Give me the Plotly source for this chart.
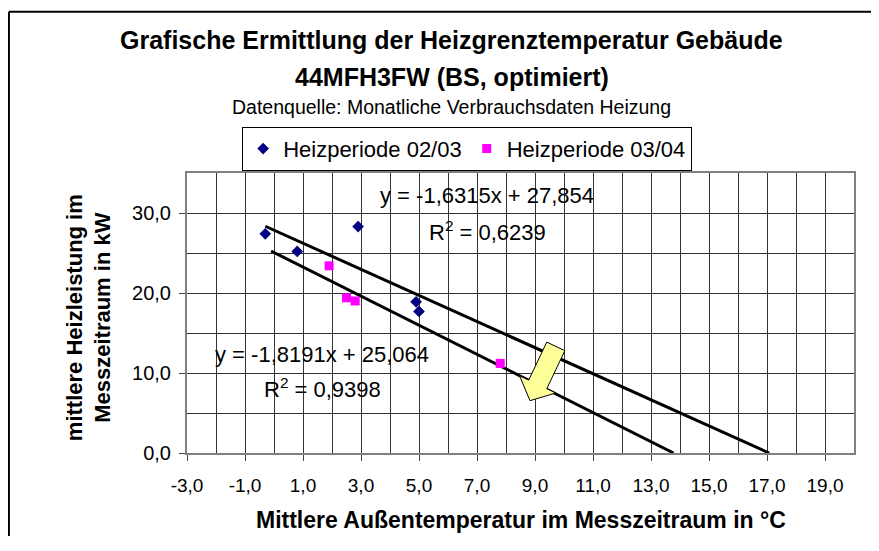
import plotly.graph_objects as go

# Heizperiode 02/03 (mittlere Außentemperatur, mittlere Heizleistung)
temp_0203 = [-0.3, 0.8, 2.9, 4.9, 5.0]
power_0203 = [27.4, 25.2, 28.3, 18.9, 17.7]

# Heizperiode 03/04
temp_0304 = [1.9, 2.5, 2.8, 7.8]
power_0304 = [23.4, 19.4, 19.0, 11.2]

# linear trendlines as shown in the chart
slope_0203, icpt_0203, r2_0203 = -1.6315, 27.854, 0.6239
slope_0304, icpt_0304, r2_0304 = -1.8191, 25.064, 0.9398
backcast_0304 = 2.0

x_ticks = list(range(-3, 20, 2))
y_ticks = [0, 10, 20, 30]

FONT = "Liberation Sans, Arial, sans-serif"


def fmt(v, nd):
    return f"{v:.{nd}f}".replace(".", ",")


def trend_xy(slope, icpt, x_start):
    # line from first x value down to the heating limit (y = 0)
    x_end = -icpt / slope
    xs = [x_start, x_end]
    return xs, [slope * x + icpt for x in xs]


fig = go.Figure()

tx, ty = trend_xy(slope_0203, icpt_0203, min(temp_0203))
fig.add_trace(go.Scatter(x=tx, y=ty, mode="lines", line=dict(color="black", width=3),
                         showlegend=False, hoverinfo="skip"))
tx, ty = trend_xy(slope_0304, icpt_0304, min(temp_0304) - backcast_0304)
fig.add_trace(go.Scatter(x=tx, y=ty, mode="lines", line=dict(color="black", width=3),
                         showlegend=False, hoverinfo="skip"))

fig.add_trace(go.Scatter(x=temp_0203, y=power_0203, mode="markers", name="Heizperiode 02/03",
                         marker=dict(symbol="diamond", size=9, color="#000080")))
fig.add_trace(go.Scatter(x=temp_0304, y=power_0304, mode="markers", name="Heizperiode 03/04",
                         marker=dict(symbol="square", size=9, color="#FF00FF")))

grid_col = "#333333"
fig.update_xaxes(range=[-3, 20], tickmode="array", tickvals=x_ticks,
                 ticktext=[fmt(v, 1) for v in x_ticks],
                 showgrid=True, gridcolor=grid_col, gridwidth=1,
                 minor=dict(tickmode="linear", dtick=1, tick0=-3, showgrid=True,
                            gridcolor=grid_col, gridwidth=1),
                 ticks="outside", ticklen=6, tickcolor="#444", ticklabelstandoff=8,
                 showline=True, linecolor="#808080", linewidth=2, mirror=True,
                 zeroline=False, automargin=False, tickfont=dict(size=19, color="black"))
fig.update_yaxes(range=[0, 35], tickmode="array", tickvals=y_ticks,
                 ticktext=[fmt(v, 1) for v in y_ticks],
                 showgrid=True, gridcolor=grid_col, gridwidth=1,
                 minor=dict(tickmode="linear", dtick=5, tick0=0, showgrid=True,
                            gridcolor=grid_col, gridwidth=1),
                 ticks="outside", ticklen=6, tickcolor="#444", ticklabelstandoff=4,
                 showline=True, linecolor="#808080", linewidth=2, mirror=True,
                 zeroline=False, automargin=False, tickfont=dict(size=20, color="black"))

# yellow block arrow pointing at the heating limit
arrow = [(9.405, 13.86), (10.029, 12.79), (9.407, 8.04), (9.717, 7.5),
         (8.828, 6.54), (8.469, 9.65), (8.783, 9.11)]
path = "M " + " L ".join(f"{x},{y}" for x, y in arrow) + " Z"

# chart area frame: only its left and top edges are inside the picture
frame = dict(color="black", width=2)
shapes = [
    dict(type="path", xref="x", yref="y", path=path, fillcolor="#FFFF99",
         line=dict(color="black", width=1)),
    dict(type="line", xref="paper", yref="paper", x0=-0.267, y0=-0.6, x1=-0.267, y1=1.576,
         line=frame),
    dict(type="line", xref="paper", yref="paper", x0=-0.267, y0=1.576, x1=1.2, y1=1.576,
         line=frame),
]

annotations = [
    dict(text="<b>Grafische Ermittlung der Heizgrenztemperatur Gebäude</b>", x=0.397, y=1.476,
         font=dict(size=25)),
    dict(text="<b>44MFH3FW (BS, optimiert)</b>", x=0.397, y=1.343, font=dict(size=25)),
    dict(text="Datenquelle: Monatliche Verbrauchsdaten Heizung", x=0.397, y=1.237,
         font=dict(size=19.5)),
    dict(text="<b>mittlere Heizleistung im<br>Messzeitraum in kW</b>", x=-0.147, y=0.485,
         textangle=-90, font=dict(size=22)),
    dict(text="<b>Mittlere Außentemperatur im Messzeitraum in °C</b>", x=0.5, y=-0.238,
         font=dict(size=23)),
    dict(text=f"y = {fmt(slope_0203, 4)}x + {fmt(icpt_0203, 3)}", x=0.45, y=0.918,
         font=dict(size=22)),
    dict(text=f"R<sup>2</sup> = {fmt(r2_0203, 4)}", x=0.45, y=0.792, font=dict(size=22)),
    dict(text=f"y = {fmt(slope_0304, 4)}x + {fmt(icpt_0304, 3)}", x=0.203, y=0.351,
         font=dict(size=22)),
    dict(text=f"R<sup>2</sup> = {fmt(r2_0304, 4)}", x=0.203, y=0.233, font=dict(size=22)),
]
for a in annotations:
    a.update(xref="paper", yref="paper", showarrow=False, xanchor="center", yanchor="middle")

# page body has an 8px margin, so the figure is kept a bit smaller than the window
fig.update_layout(
    width=863, height=528,
    margin=dict(l=179, r=17, t=165, b=83),
    paper_bgcolor="white", plot_bgcolor="white",
    font=dict(family=FONT, color="black"),
    showlegend=True,
    legend=dict(orientation="h", x=0.42, xanchor="center", y=1.165, yanchor="top",
                bordercolor="black", borderwidth=1, font=dict(size=22),
                itemwidth=30, tracegroupgap=0),
    shapes=shapes,
    annotations=annotations,
)

fig.write_html("out.html")
